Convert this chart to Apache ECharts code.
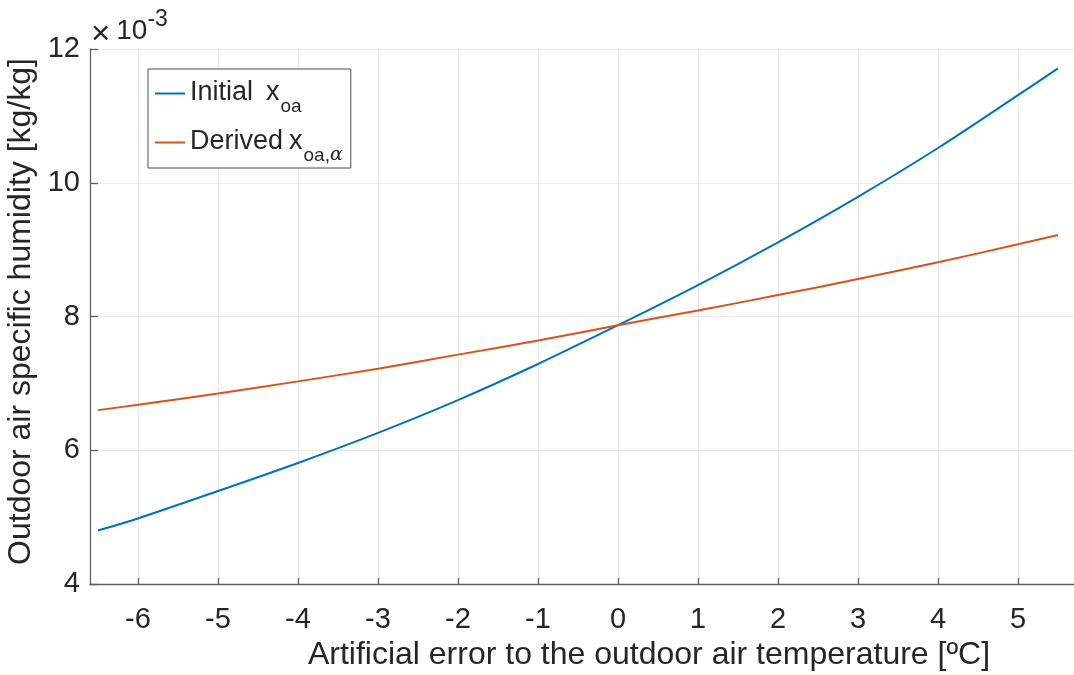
<!DOCTYPE html>
<html>
<head>
<meta charset="utf-8">
<script src="https://cdn.jsdelivr.net/npm/echarts@6/dist/echarts.min.js"></script>
<style>
  html, body { margin: 0; padding: 0; background: #fff; }
  #chart { width: 1074px; height: 675px; }
</style>
</head>
<body>
<div id="chart"></div>
<script>
// Temperature error applied to the outdoor air reading [°C]
const tempError = [-6.5, -6, -5, -4, -3, -2, -1, 0, 1, 2, 3, 4, 5, 5.5];
// Specific humidity, in units of 1e-3 kg/kg
const initialXoa = [4.80, 4.98, 5.39, 5.81, 6.26, 6.75, 7.29, 7.87, 8.47, 9.11, 9.79, 10.52, 11.31, 11.71];
const derivedXoa = [6.60, 6.68, 6.85, 7.03, 7.22, 7.43, 7.64, 7.87, 8.09, 8.32, 8.56, 8.81, 9.08, 9.22];
// Tick labels
const xTicks = [-6, -5, -4, -3, -2, -1, 0, 1, 2, 3, 4, 5];
const seriesNames = ['Initial x_oa', 'Derived x_oa,α'];

const FONT = 'Liberation Sans, Arial, Helvetica, sans-serif';
const TEXT = '#262626';
const AXIS = '#5f5f5f';
const GRID = '#ebebeb';

const pairs = ys => tempError.map((x, i) => [x, ys[i]]);

const chart = echarts.init(document.getElementById('chart'), null, { renderer: 'canvas' });
chart.setOption({
  animation: false,
  backgroundColor: '#ffffff',
  textStyle: { fontFamily: FONT, color: TEXT },
  grid: { left: 90, right: 0, top: 49, bottom: 91, containLabel: false, outerBoundsMode: 'none' },
  xAxis: {
    type: 'value',
    min: -6.6,
    max: 5.7,
    name: 'Artificial error to the outdoor air temperature [ºC]',
    nameLocation: 'middle',
    nameGap: 55,
    nameTextStyle: { fontSize: 32, color: TEXT, fontFamily: FONT, padding: [0, 0, 0, 134] },
    axisLine: { onZero: false, lineStyle: { color: AXIS, width: 1.3 } },
    axisTick: { show: true, inside: true, length: 6, customValues: xTicks, lineStyle: { color: AXIS, width: 1.3 } },
    axisLabel: { customValues: xTicks, fontSize: 29, color: TEXT, margin: 21, fontFamily: FONT },
    splitLine: { show: true, lineStyle: { color: GRID, width: 1 } }
  },
  yAxis: {
    type: 'value',
    min: 4,
    max: 12,
    interval: 2,
    name: 'Outdoor air specific humidity [kg/kg]',
    nameLocation: 'middle',
    nameGap: 50,
    nameRotate: 90,
    nameTextStyle: { fontSize: 32, color: TEXT, fontFamily: FONT, padding: [0, 0, 0, 10] },
    axisLine: { show: true, onZero: false, lineStyle: { color: AXIS, width: 1.3 } },
    axisTick: { show: true, inside: true, length: 8, lineStyle: { color: AXIS, width: 1.3 } },
    axisLabel: { fontSize: 29, color: TEXT, margin: 10, fontFamily: FONT },
    splitLine: { show: true, lineStyle: { color: GRID, width: 1 } }
  },
  legend: {
    show: true,
    orient: 'vertical',
    left: 148,
    top: 69,
    padding: [3, 8, 3, 7],
    itemGap: 5,
    itemWidth: 30,
    itemHeight: 2,
    icon: 'rect',
    borderColor: '#4d4d4d',
    borderWidth: 1,
    borderRadius: 0,
    backgroundColor: '#ffffff',
    data: seriesNames,
    formatter: name => name === seriesNames[0]
      ? '{m|Initial}{g|x}{s|oa}'
      : '{m|Derived}{h|x}{s|oa,}{a|α}',
    textStyle: {
      color: TEXT,
      fontFamily: FONT,
      rich: {
        m: { fontSize: 27, lineHeight: 43, fontFamily: FONT, color: TEXT, verticalAlign: 'top', padding: [7, 0, 0, 0] },
        g: { fontSize: 27, lineHeight: 43, fontFamily: FONT, color: TEXT, verticalAlign: 'top', padding: [7, 0, 0, 13] },
        h: { fontSize: 27, lineHeight: 43, fontFamily: FONT, color: TEXT, verticalAlign: 'top', padding: [7, 0, 0, 6] },
        s: { fontSize: 19, lineHeight: 43, fontFamily: FONT, color: TEXT, verticalAlign: 'top', padding: [25, 0, 0, 1] },
        a: { fontSize: 19, lineHeight: 43, fontFamily: 'DejaVu Serif, serif', fontStyle: 'italic', color: TEXT, verticalAlign: 'top', padding: [25, 0, 0, 0] }
      }
    }
  },
  graphic: [{
    type: 'text',
    left: 91,
    top: 8,
    style: {
      text: '{x|×}{b|10}{e|-3}',
      fill: TEXT,
      rich: {
        x: { fontSize: 33, fontFamily: FONT, fill: TEXT, verticalAlign: 'top', padding: [15, 6, 0, 0] },
        b: { fontSize: 28, fontFamily: FONT, fill: TEXT, verticalAlign: 'top', padding: [14, 0, 0, 0] },
        e: { fontSize: 23, fontFamily: FONT, fill: TEXT, verticalAlign: 'top', padding: [5, 0, 0, 0] }
      }
    }
  }],
  series: [
    {
      name: seriesNames[0],
      type: 'line',
      data: pairs(initialXoa),
      smooth: 0.3,
      symbol: 'none',
      lineStyle: { color: '#0072BD', width: 2 },
      itemStyle: { color: '#0072BD' }
    },
    {
      name: seriesNames[1],
      type: 'line',
      data: pairs(derivedXoa),
      smooth: 0.3,
      symbol: 'none',
      lineStyle: { color: '#D95319', width: 2 },
      itemStyle: { color: '#D95319' }
    }
  ]
});
</script>
</body>
</html>
